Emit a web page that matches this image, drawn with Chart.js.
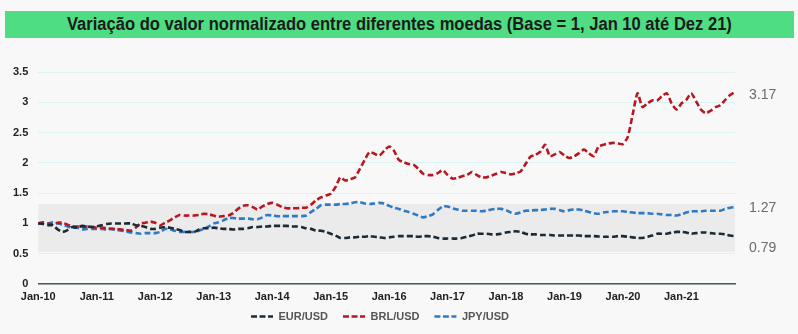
<!DOCTYPE html>
<html>
<head>
<meta charset="utf-8">
<script src="https://cdn.jsdelivr.net/npm/chart.js@4.4.1/dist/chart.umd.min.js"></script>
<style>
  html, body { margin: 0; padding: 0; background: #f8f8f8; }
  #wrap { position: relative; width: 798px; height: 334px; }
  #titulo {
    position: absolute; left: 5px; top: 11px; width: 789px; height: 27px;
    background: #4edd82; color: #1b1b1b; text-align: center; overflow: hidden;
    font-family: "Liberation Sans", Arial, sans-serif;
    font-weight: bold; font-size: 18px; line-height: 27px;
  }
  #titulo span { display: inline-block; transform: scaleX(0.92); white-space: nowrap; }
  canvas { position: absolute; left: 0; top: 0; }
</style>
</head>
<body>
<div id="wrap">
  <canvas id="moedasChart" width="798" height="334"></canvas>
  <div id="titulo"><span>Variação do valor normalizado entre diferentes moedas (Base = 1, Jan 10 até Dez 21)</span></div>
</div>
<script>
// anos e meses (Jan-10 ... Dez-21), mensal
const anos = ['10', '11', '12', '13', '14', '15', '16', '17', '18', '19', '20', '21'];
const meses = ['Jan', 'Fev', 'Mar', 'Abr', 'Mai', 'Jun', 'Jul', 'Ago', 'Set', 'Out', 'Nov', 'Dez'];

// valores normalizados (base = 1 em Jan-10), um ano por linha
const eurUsd = [
  1.00, 0.99, 0.97, 0.97, 0.90, 0.86, 0.89, 0.94, 0.93, 0.96, 0.95, 0.94,
  0.95, 0.97, 0.99, 1.00, 1.00, 1.00, 1.00, 1.00, 0.97, 0.96, 0.94, 0.91,
  0.91, 0.93, 0.94, 0.93, 0.91, 0.89, 0.86, 0.86, 0.86, 0.90, 0.92, 0.92,
  0.93, 0.92, 0.91, 0.91, 0.90, 0.91, 0.91, 0.92, 0.94, 0.94, 0.95, 0.95,
  0.96, 0.96, 0.96, 0.96, 0.95, 0.95, 0.94, 0.92, 0.91, 0.88, 0.88, 0.86,
  0.83, 0.80, 0.76, 0.76, 0.77, 0.77, 0.78, 0.78, 0.79, 0.78, 0.77, 0.76,
  0.77, 0.78, 0.79, 0.79, 0.79, 0.79, 0.78, 0.79, 0.79, 0.78, 0.76, 0.75,
  0.75, 0.75, 0.75, 0.76, 0.78, 0.80, 0.83, 0.83, 0.83, 0.82, 0.82, 0.83,
  0.85, 0.86, 0.87, 0.86, 0.83, 0.82, 0.82, 0.81, 0.81, 0.81, 0.80, 0.80,
  0.80, 0.80, 0.80, 0.80, 0.79, 0.79, 0.79, 0.785, 0.78, 0.78, 0.78, 0.79,
  0.79, 0.78, 0.77, 0.76, 0.76, 0.78, 0.80, 0.83, 0.83, 0.83, 0.85, 0.86,
  0.86, 0.85, 0.83, 0.84, 0.85, 0.85, 0.84, 0.83, 0.83, 0.82, 0.80, 0.79
];
const brlUsd = [
  1.00, 1.02, 1.00, 0.98, 1.01, 1.01, 0.98, 0.95, 0.95, 0.94, 0.95, 0.94,
  0.93, 0.93, 0.92, 0.91, 0.91, 0.90, 0.89, 0.88, 0.93, 1.00, 1.01, 1.03,
  1.01, 0.97, 1.01, 1.05, 1.10, 1.14, 1.13, 1.13, 1.13, 1.14, 1.16, 1.15,
  1.13, 1.11, 1.12, 1.13, 1.17, 1.24, 1.29, 1.30, 1.27, 1.23, 1.28, 1.32,
  1.34, 1.31, 1.27, 1.25, 1.25, 1.25, 1.26, 1.26, 1.31, 1.38, 1.43, 1.46,
  1.49, 1.60, 1.76, 1.71, 1.73, 1.76, 1.90, 2.05, 2.18, 2.15, 2.12, 2.20,
  2.27, 2.20, 2.05, 2.01, 1.98, 1.97, 1.90, 1.82, 1.80, 1.80, 1.83, 1.88,
  1.80, 1.74, 1.75, 1.78, 1.80, 1.85, 1.80, 1.76, 1.76, 1.79, 1.82, 1.85,
  1.83, 1.81, 1.83, 1.86, 1.98, 2.10, 2.13, 2.18, 2.30, 2.11, 2.14, 2.18,
  2.12, 2.08, 2.11, 2.16, 2.22, 2.16, 2.11, 2.27, 2.30, 2.32, 2.33, 2.32,
  2.31, 2.43, 2.80, 3.15, 2.92, 2.98, 3.03, 3.03, 3.10, 3.15, 2.98, 2.88,
  2.98, 3.04, 3.15, 3.02, 2.88, 2.82, 2.86, 2.92, 2.95, 3.04, 3.12, 3.17
];
const jpyUsd = [
  1.00, 1.00, 1.00, 1.02, 1.00, 0.98, 0.95, 0.93, 0.93, 0.90, 0.91, 0.91,
  0.91, 0.91, 0.90, 0.91, 0.89, 0.88, 0.87, 0.85, 0.84, 0.83, 0.84, 0.84,
  0.84, 0.86, 0.91, 0.90, 0.88, 0.86, 0.86, 0.86, 0.86, 0.88, 0.91, 0.95,
  1.00, 1.02, 1.05, 1.09, 1.09, 1.08, 1.08, 1.08, 1.07, 1.07, 1.10, 1.14,
  1.13, 1.12, 1.12, 1.12, 1.12, 1.12, 1.12, 1.13, 1.19, 1.24, 1.30, 1.31,
  1.31, 1.31, 1.32, 1.32, 1.33, 1.35, 1.35, 1.33, 1.32, 1.33, 1.34, 1.33,
  1.29, 1.26, 1.24, 1.21, 1.19, 1.16, 1.13, 1.10, 1.12, 1.15, 1.22, 1.28,
  1.28, 1.25, 1.23, 1.21, 1.21, 1.21, 1.21, 1.20, 1.21, 1.23, 1.24, 1.24,
  1.22, 1.18, 1.16, 1.18, 1.21, 1.21, 1.22, 1.22, 1.23, 1.24, 1.24, 1.22,
  1.20, 1.22, 1.23, 1.23, 1.21, 1.19, 1.17, 1.16, 1.18, 1.19, 1.20, 1.20,
  1.20, 1.19, 1.18, 1.17, 1.17, 1.17, 1.16, 1.16, 1.15, 1.14, 1.14, 1.13,
  1.15, 1.18, 1.20, 1.20, 1.20, 1.21, 1.21, 1.21, 1.21, 1.24, 1.26, 1.27
];

// faixa cinza em destaque (valores do eixo y)
const faixa = [0.53, 1.32];
// deslocamento vertical dos rótulos finais (EUR, BRL, JPY)
const ajusteRotulo = [12, 3, 1];

const rotulos = [];
anos.forEach(a => meses.forEach(m => rotulos.push(m + '-' + a)));
// eixo mostra só janeiro, como "Jan-10"
const rotuloEixo = (i) => (i % 12 === 0 ? 'Jan-' + anos[i / 12] : '');

Chart.defaults.font.family = '"Liberation Sans", Arial, sans-serif';

// faixa cinza atrás das linhas de grade
const faixaPlugin = {
  id: 'faixa',
  beforeDraw(chart) {
    const { ctx, chartArea, scales } = chart;
    const yTop = scales.y.getPixelForValue(faixa[1]);
    const yBot = scales.y.getPixelForValue(faixa[0]);
    ctx.save();
    ctx.fillStyle = '#ebebeb';
    ctx.fillRect(chartArea.left, yTop, chartArea.right - chartArea.left, yBot - yTop);
    ctx.restore();
  }
};

// último valor de cada série à direita
const rotuloFinal = {
  id: 'rotuloFinal',
  afterDatasetsDraw(chart) {
    const { ctx, chartArea, scales } = chart;
    ctx.save();
    ctx.font = '14px "Liberation Sans", Arial, sans-serif';
    ctx.fillStyle = '#6a6a6a';
    ctx.textAlign = 'left';
    ctx.textBaseline = 'middle';
    chart.data.datasets.forEach((ds, i) => {
      const v = ds.data[ds.data.length - 1];
      const y = scales.y.getPixelForValue(v) + ajusteRotulo[i];
      ctx.fillText(v.toFixed(2), chartArea.right + 14, y);
    });
    ctx.restore();
  }
};

// sobe a legenda para perto do eixo e desloca um pouco para a direita
const legendaPos = {
  id: 'legendaPos',
  afterLayout(chart) {
    const lg = chart.legend;
    lg.top -= 7; lg.bottom -= 7;
    lg.left += 11; lg.right += 11;
  }
};

const ctx = document.getElementById('moedasChart').getContext('2d');
const moedasChart = new Chart(ctx, {
  type: 'line',
  data: {
    labels: rotulos,
    datasets: [
      { label: 'EUR/USD', data: eurUsd, borderColor: '#1d2a33', backgroundColor: '#1d2a33' },
      { label: 'BRL/USD', data: brlUsd, borderColor: '#b81620', backgroundColor: '#b81620' },
      { label: 'JPY/USD', data: jpyUsd, borderColor: '#2f7ac4', backgroundColor: '#2f7ac4' }
    ]
  },
  options: {
    responsive: false,
    animation: false,
    layout: { padding: { top: 72, right: 63, left: 3, bottom: -5 } },
    elements: {
      point: { radius: 0 },
      line: { borderWidth: 2.6, borderDash: [6, 3], tension: 0.2, fill: false }
    },
    scales: {
      x: {
        grid: { display: false, drawTicks: false },
        border: { display: true, color: '#555555', width: 1.5 },
        ticks: {
          autoSkip: false, maxRotation: 0, padding: 6,
          color: '#222222', font: { size: 11, weight: 'bold' },
          callback: (v, i) => rotuloEixo(i)
        },
        afterFit: (s) => { s.height = 19; }
      },
      y: {
        min: 0, max: 3.5,
        border: { display: false },
        grid: { color: '#daf3f3', lineWidth: 1, drawTicks: false },
        ticks: {
          stepSize: 0.5, padding: 10, color: '#222222', font: { size: 11, weight: 'bold' },
          callback: (v) => String(v)
        }
      }
    },
    plugins: {
      title: { display: false },
      tooltip: { enabled: false },
      legend: {
        position: 'bottom',
        labels: {
          usePointStyle: true, pointStyle: 'line', pointStyleWidth: 22,
          boxHeight: 11, padding: 15,
          color: '#555555', font: { size: 11, weight: 'bold' },
          // linha tracejada na cor de cada série
          generateLabels: (chart) => chart.data.datasets.map((ds, i) => ({
            text: ds.label,
            fillStyle: ds.borderColor,
            strokeStyle: ds.borderColor,
            fontColor: '#555555',
            lineWidth: 2.6,
            lineDash: [6, 2.5],
            pointStyle: 'line',
            hidden: false,
            datasetIndex: i
          }))
        }
      }
    }
  },
  plugins: [faixaPlugin, rotuloFinal, legendaPos]
});
</script>
</body>
</html>
